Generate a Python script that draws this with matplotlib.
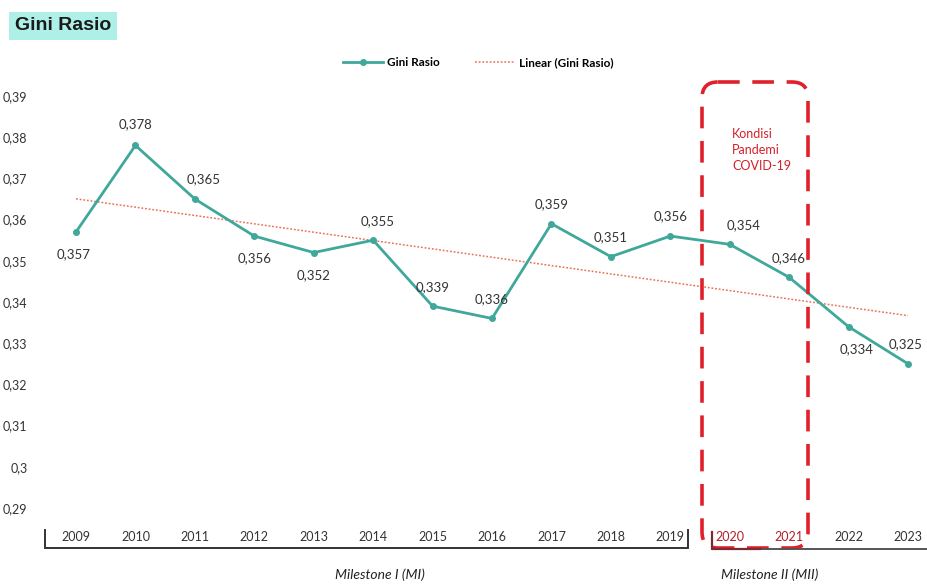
import numpy as np
import matplotlib
matplotlib.use("Agg")
import matplotlib.pyplot as plt
from matplotlib.patches import FancyBboxPatch

years = ["2009", "2010", "2011", "2012", "2013", "2014", "2015", "2016",
         "2017", "2018", "2019", "2020", "2021", "2022", "2023"]
gini = [0.357, 0.378, 0.365, 0.356, 0.352, 0.355, 0.339, 0.336,
        0.359, 0.351, 0.356, 0.354, 0.346, 0.334, 0.325]
label_text = ["0,357", "0,378", "0,365", "0,356", "0,352", "0,355", "0,339", "0,336",
              "0,359", "0,351", "0,356", "0,354", "0,346", "0,334", "0,325"]
yticks = [0.29, 0.30, 0.31, 0.32, 0.33, 0.34, 0.35, 0.36, 0.37, 0.38, 0.39]
ytick_labels = ["0,29", "0,3", "0,31", "0,32", "0,33", "0,34", "0,35", "0,36",
                "0,37", "0,38", "0,39"]

FONT = "Lato"
TEAL = "#3fa89a"
RED = "#e0202a"

W, H = 928, 584
fig = plt.figure(figsize=(W / 100, H / 100), dpi=100)
ax = fig.add_axes([40 / W, (H - 520) / H, 888 / W, 440 / H])

x = np.arange(len(years))
ax.plot(x, gini, color=TEAL, lw=2, marker="o", ms=4, zorder=3,
        label="Gini Rasio")
coef = np.polyfit(x, gini, 1)
ax.plot(x, np.polyval(coef, x), color="#e8735a", lw=1.1, ls=(0, (1.2, 1.2)),
        zorder=2, label="Linear (Gini Rasio)")

ax.set_xlim(-0.606, 14.337)
ax.set_ylim(0.28709, 0.39388)
ax.set_yticks(yticks)
ax.set_yticklabels(ytick_labels)
ax.set_xticks(x)
ax.set_xticklabels(years)
ax.tick_params(axis="both", length=0, labelsize=9, labelcolor="#333333")
ax.tick_params(axis="y", pad=9)
ax.tick_params(axis="x", pad=8)
for lab in ax.get_yticklabels() + ax.get_xticklabels():
    lab.set_family(FONT)
for i in (11, 12):
    ax.get_xticklabels()[i].set_color("#b0202a")
for s in ax.spines.values():
    s.set_visible(False)

# data labels (offsets in points)
offsets = [(-2, -16), (0, 15), (6, 14), (0, -16), (0, -16), (3, 14), (0, 14), (0, 14),
           (0, 14), (0, 14), (0, 14), (10, 14), (0, 14), (6, -16), (-2, 14)]
for xi, v, t, (dx, dy) in zip(x, gini, label_text, offsets):
    ax.annotate(t, (xi, v), xytext=(dx, dy), textcoords="offset points",
                ha="center", va="center", fontsize=9.5, color="#333333",
                family=FONT, annotation_clip=False)

leg = ax.legend(loc="center", bbox_to_anchor=(478 / W, (H - 63) / H),
                bbox_transform=fig.transFigure, ncol=2, frameon=False,
                prop={"family": FONT, "weight": "bold", "size": 8.5},
                handlelength=3.4, columnspacing=3.0, handletextpad=0.3)

# overlay in pixel coordinates
ov = fig.add_axes([0, 0, 1, 1], zorder=5)
ov.set_xlim(0, W)
ov.set_ylim(H, 0)
ov.axis("off")
ov.patch.set_alpha(0)

# title
ov.text(15, 26, "Gini Rasio", fontsize=14, fontweight="bold",
        family="Liberation Sans", color="#1a1a1a", va="center", ha="left",
        bbox=dict(boxstyle="square,pad=0.3", fc="#aef0e8", ec="none"))

# milestone brackets
ov.plot([45, 45, 688, 688], [530, 548, 548, 530], color="#333333", lw=1.4,
        solid_joinstyle="miter")
ov.plot([712, 928], [549, 549], color="#555555", lw=1.4)
ov.plot([712, 712, 760], [532, 549, 549], color="#7a2a30", lw=1.6)
ov.text(380, 575, "Milestone I (MI)", fontsize=10, style="italic",
        family=FONT, color="#222222", ha="center", va="center")
ov.text(770, 575, "Milestone II (MII)", fontsize=10, style="italic",
        family=FONT, color="#222222", ha="center", va="center")

# pandemic box
box = FancyBboxPatch((702, 82), 106, 466, boxstyle="round,pad=0,rounding_size=16",
                     fill=False, ec=RED, lw=2.6, ls=(0, (6, 3.5)))
ov.add_patch(box)
ov.text(732, 150, "Kondisi\nPandemi\nCOVID-19", fontsize=9, color="#d4202a",
        family=FONT, ha="left", va="center", linespacing=1.35)

fig.savefig("out.png", dpi=100, facecolor="white")
